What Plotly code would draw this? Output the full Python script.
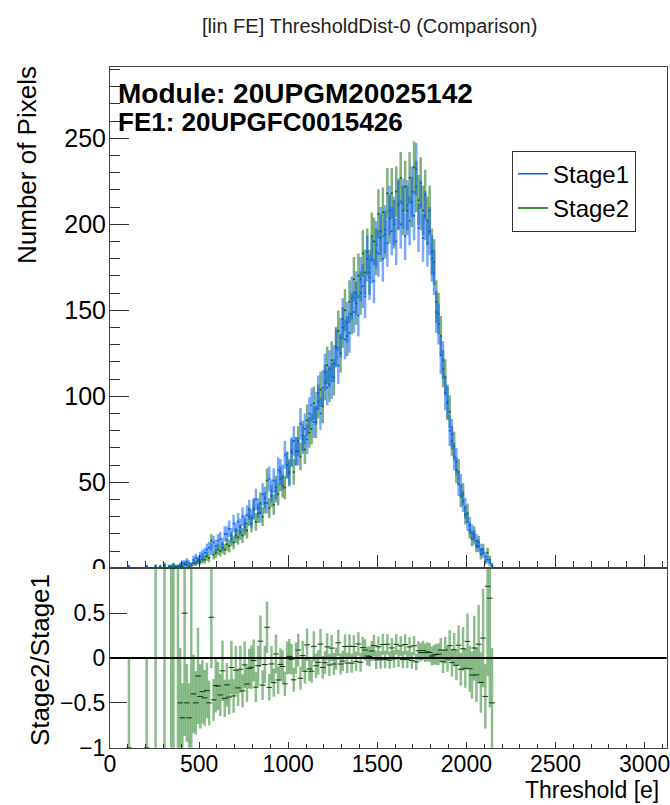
import numpy as np
import plotly.graph_objects as go

# ---------------- data ----------------
# histogram binning of the threshold axis [e]: 12.5 e bins, first filled bin 100-112.5
bin_width = 12.5
first_bin = 8
n_bins = 164
threshold = [bin_width * (first_bin + i) + bin_width / 2 for i in range(n_bins)]

stage1 = [1, 0, 0, 0, 0, 0, 0, 0, 1, 0, 0, 0, 1, 0, 0, 0, 1, 0, 0, 1, 1, 0, 1, 2,
          3, 2, 4, 3, 2, 5, 6, 5, 7, 8,
          9, 11, 12, 11, 15, 13, 16, 17, 14, 20,
          20, 23, 19, 26, 22, 27, 24, 30, 26, 31,
          34, 29, 35, 40, 35, 32, 43, 41, 38, 52,
          45, 51, 45, 57, 56, 53, 66, 60, 55, 68,
          74, 68, 68, 84, 75, 81, 75, 90, 95, 85,
          93, 102, 90, 105, 114, 105, 116, 109, 119, 129,
          118, 134, 145, 133, 143, 137, 157, 149, 160, 147,
          168, 164, 158, 180, 169, 179, 167, 188, 183, 196,
          180, 197, 189, 208, 196, 202, 190, 212, 200, 212,
          193, 211, 202, 219, 205, 232, 198, 211, 192, 205,
          189, 196, 180, 172, 149, 142, 124, 121, 102, 97,
          80, 78, 65, 62, 49, 48, 39, 35, 27, 25,
          21, 18, 16, 13, 11, 9, 7, 5, 3, 2]

stage2 = [0, 0, 0, 0, 0, 0, 0, 0, 0, 0, 0, 0, 1, 0, 1, 0, 2, 0, 1, 1, 2, 1, 1, 1,
          1, 3, 2, 1, 2, 3, 3, 4, 4, 5,
          5, 7, 6, 16, 8, 9, 11, 10, 12, 11,
          14, 13, 17, 15, 19, 18, 21, 19, 24, 22,
          30, 26, 34, 27, 32, 38, 30, 38, 51, 35,
          42, 37, 47, 43, 52, 48, 47, 60, 56, 67,
          56, 68, 74, 65, 77, 69, 86, 79, 81, 96,
          85, 97, 104, 94, 108, 118, 107, 121, 111, 128,
          138, 125, 140, 150, 135, 155, 148, 168, 154, 170,
          160, 183, 172, 184, 172, 193, 190, 184, 206, 192,
          207, 194, 218, 203, 218, 200, 219, 211, 227, 208,
          222, 208, 227, 213, 233, 222, 214, 224, 208, 217,
          202, 208, 184, 178, 155, 148, 135, 116, 111, 96,
          91, 74, 71, 57, 56, 42, 43, 31, 32, 22,
          17, 20, 13, 15, 8, 11, 4, 9, 5, 1]

series_names = ["Stage1", "Stage2"]
series_colors = ["rgb(0,90,255)", "rgb(0,100,0)"]
series_bar_colors = ["rgba(10,100,255,0.55)", "rgba(0,100,0,0.5)"]

module_label = "Module: 20UPGM20025142"
fe_label = "FE1: 20UPGFC0015426"
title_text = "[lin FE] ThresholdDist-0 (Comparison)"

# ---------------- derived quantities ----------------
s1 = np.array(stage1, dtype=float)
s2 = np.array(stage2, dtype=float)


def hist_points(counts):
    ys, es = [], []
    for c in counts:
        if c > 0:
            ys.append(float(c))
            es.append(float(np.sqrt(c)))
        else:
            ys.append(None)
            es.append(None)
    return ys, es


ratio, ratio_err = [], []
for a, b in zip(s1, s2):
    if a > 0:
        ratio.append(b / a - 1.0)
        ratio_err.append(float(np.sqrt(max(b, 1.0) / a**2 + b**2 * a / a**4)))
    else:
        ratio.append(None)
        ratio_err.append(None)

FONT = "Liberation Sans, Arial, Helvetica, sans-serif"
W, H = 670, 805
XMAX = 3124

fig = go.Figure()

# upper panel: Stage2 first so Stage1 sits on top
for counts, col, bcol in [(stage2, series_colors[1], series_bar_colors[1]),
                          (stage1, series_colors[0], series_bar_colors[0])]:
    ys, es = hist_points(counts)
    fig.add_trace(go.Scatter(
        x=threshold, y=ys, mode="markers",
        marker=dict(size=2, color=col),
        error_y=dict(type="data", array=es, color=bcol, thickness=2.5, width=0),
        xaxis="x", yaxis="y", showlegend=False, hoverinfo="skip"))

# legend entries
for name, col, rank in [(series_names[0], series_colors[0], 1),
                        (series_names[1], series_colors[1], 2)]:
    fig.add_trace(go.Scatter(x=[None], y=[None], mode="lines",
                             line=dict(color=col, width=1.5), name=name,
                             legendrank=rank, xaxis="x", yaxis="y"))

# lower panel: ratio
fig.add_trace(go.Scatter(
    x=threshold, y=ratio, mode="markers",
    marker=dict(symbol="line-ew", size=4, color="#113311",
                line=dict(color="#113311", width=1)),
    error_y=dict(type="data", array=ratio_err, color="rgba(0,110,0,0.45)",
                 thickness=2.5, width=0),
    xaxis="x2", yaxis="y2", showlegend=False, hoverinfo="skip"))

xdom = [110 / W, 666.7 / W]
up_dom = [(H - 568.3) / H, (H - 66.7) / H]
lo_dom = [(H - 747.7) / H, (H - 568.3) / H]

axcol = "#444"
tcol = "#333"
common = dict(showline=True, linecolor=axcol, linewidth=1, mirror=True,
              showgrid=False, zeroline=False, automargin=False,
              tickwidth=1, tickcolor=tcol, ticks="inside",
              ticklabeloverflow="allow")

fig.update_layout(
    width=W, height=H,
    margin=dict(l=0, r=0, t=0, b=0, autoexpand=False),
    paper_bgcolor="white", plot_bgcolor="white",
    font=dict(family=FONT, color="black"),
    xaxis=dict(domain=xdom, anchor="y", range=[0, XMAX], showticklabels=False,
               ticklen=13, tick0=0, dtick=500,
               minor=dict(ticks="inside", ticklen=7, dtick=100, tickcolor=tcol),
               **common),
    yaxis=dict(domain=up_dom, anchor="x", range=[0, 291.6],
               ticklen=19, tick0=0, dtick=50,
               minor=dict(ticks="inside", ticklen=10, dtick=10, tickcolor=tcol),
               tickfont=dict(size=25, family=FONT),
               ticklabelstandoff=-2, **common),
    xaxis2=dict(domain=xdom, anchor="y2", range=[0, XMAX],
                ticklen=6, tick0=0, dtick=500,
                minor=dict(ticks="inside", ticklen=3.5, dtick=100, tickcolor=tcol),
                tickfont=dict(size=23, family=FONT),
                ticklabelstandoff=-4, **common),
    yaxis2=dict(domain=lo_dom, anchor="x2", range=[-1, 1],
                tickvals=[-1, -0.5, 0, 0.5],
                ticktext=["\u22121", "\u22120.5", "0", "0.5"],
                ticklen=17,
                tickfont=dict(size=23, family=FONT),
                ticklabelstandoff=-1, **common),
    legend=dict(x=512 / W, y=(H - 150.7) / H, xanchor="left", yanchor="top",
                bordercolor="#333", borderwidth=1, bgcolor="white",
                font=dict(size=24, family=FONT), tracegroupgap=0, itemwidth=30),
    showlegend=True,
)

fig.add_shape(type="line", xref="x2 domain", yref="y2", x0=0, x1=1, y0=0, y1=0,
              line=dict(color="black", width=2), layer="above")
# lower pad hides the bottom half of the upper pad's "0" label (as in ROOT)
fig.add_shape(type="rect", xref="paper", yref="paper",
              x0=50 / W, x1=107 / W, y0=(H - 586) / H, y1=(H - 569) / H,
              fillcolor="white", line=dict(width=0), layer="above")

ann = [
    dict(text=title_text, x=369 / W, y=(H - 26) / H, xanchor="center",
         yanchor="middle", font=dict(size=20, color="#222")),
    dict(text="<b>" + module_label + "</b>", x=116 / W, y=(H - 94) / H,
         xanchor="left", yanchor="middle", font=dict(size=28)),
    dict(text="<b>" + fe_label + "</b>", x=116 / W, y=(H - 122) / H,
         xanchor="left", yanchor="middle", font=dict(size=26)),
    dict(text="Number of Pixels", textangle=-90, x=27 / W, y=(H - 165) / H,
         xanchor="center", yanchor="middle", font=dict(size=26)),
    dict(text="Stage2/Stage1", textangle=-90, x=40 / W, y=(H - 660) / H,
         xanchor="center", yanchor="middle", font=dict(size=26)),
    dict(text="Threshold [e]", x=661 / W, y=(H - 790) / H,
         xanchor="right", yanchor="middle", font=dict(size=23)),
]
for a in ann:
    a.update(xref="paper", yref="paper", showarrow=False)
    a["font"].setdefault("family", FONT)
    fig.add_annotation(**a)

fig.write_html("out.html", config={"displayModeBar": False},
               post_script="document.body.style.margin='0px';"
                           "document.body.style.overflow='hidden';")
